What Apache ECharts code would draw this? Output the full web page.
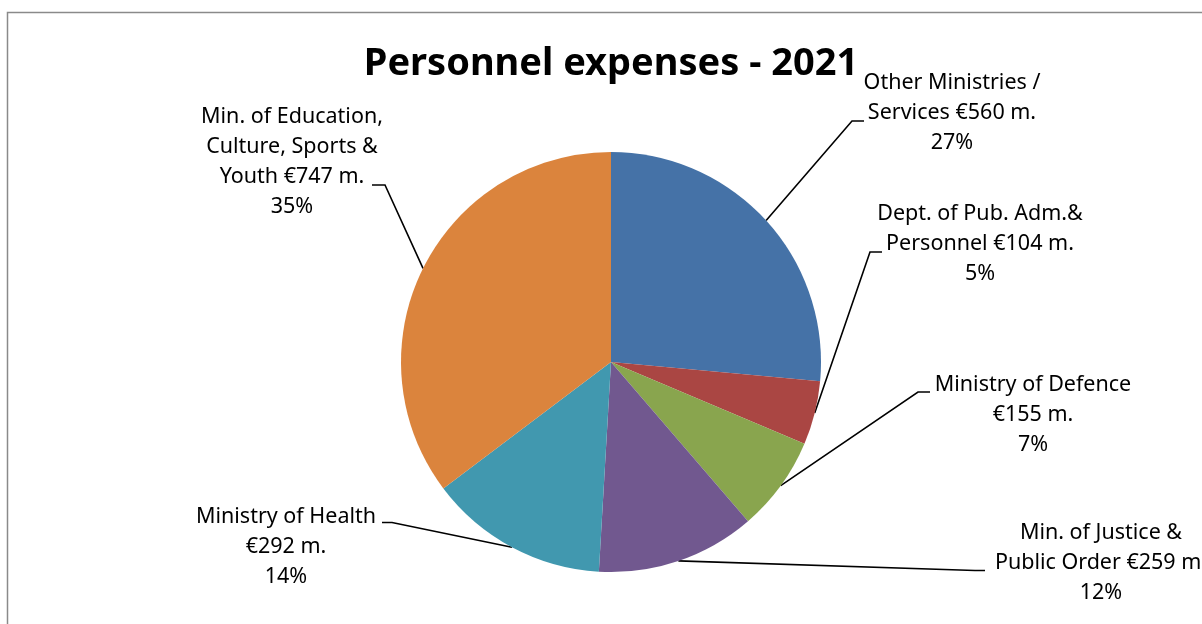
<!DOCTYPE html>
<html>
<head>
<meta charset="utf-8">
<script src="https://cdn.jsdelivr.net/npm/echarts@6/dist/echarts.min.js"></script>
<style>
html,body{margin:0;padding:0;background:#fff;}
#chart{width:1202px;height:624px;}
</style>
</head>
<body>
<div id="chart"></div>
<script>
// ---- data ----
var categories = [
  "Other Ministries /\nServices",
  "Dept. of Pub. Adm.&\nPersonnel",
  "Ministry of Defence",
  "Min. of Justice &\nPublic Order",
  "Ministry of Health",
  "Min. of Education,\nCulture, Sports &\nYouth"
];
var values = [560, 104, 155, 259, 292, 747];           // € million
var percentLabels = ["27%", "5%", "7%", "12%", "14%", "35%"];
var valueOnNewLine = [false, false, true, false, true, false];
var colors = ["#4572A7", "#AA4643", "#89A54E", "#71588F", "#4198AF", "#DB843D"];

// ---- label layout (positions of label blocks and leader elbows) ----
var labelPos = [[952,113],[980,244],[1033,415],[1101,563],[286,547],[292,162]];
var leader = [[852,121,864],[870,252,882],[918,392,930],[975,570.5,985],[392,522.5,382],[385,185,372]];

var seriesData = categories.map(function(c, i){
  return { name: c, value: values[i], itemStyle: { color: colors[i] } };
});

var chart = echarts.init(document.getElementById('chart'), null, {renderer:'canvas'});
chart.setOption({
  animation: false,
  backgroundColor: '#fff',
  title: {
    text: 'Personnel expenses - 2021',
    left: 611, top: 45, padding: 0,
    textAlign: 'center',
    textStyle: { fontFamily: 'Noto Sans', fontWeight: 'bold', fontSize: 38, color: '#000' }
  },
  graphic: [{
    type: 'rect', silent: true,
    shape: { x: 7.5, y: 12.5, width: 1400, height: 800 },
    style: { fill: 'none', stroke: '#8a8a8a', lineWidth: 1.5 }
  }],
  series: [{
    type: 'pie',
    center: [611, 362],
    radius: 210,
    startAngle: 90,
    clockwise: true,
    avoidLabelOverlap: false,
    itemStyle: { borderWidth: 0 },
    label: {
      show: true,
      position: 'outside',
      fontFamily: 'Noto Sans',
      fontSize: 21.5,
      lineHeight: 30,
      color: '#000',
      align: 'center',
      formatter: function(p){
        var i = p.dataIndex;
        return categories[i] + (valueOnNewLine[i] ? '\n' : ' ') + '€' + values[i] + ' m.\n' + percentLabels[i];
      }
    },
    labelLine: { show: true, smooth: false, length: 10, length2: 10, lineStyle: { color: '#000', width: 1.6 } },
    labelLayout: function(params){
      var i = params.dataIndex;
      var pts = params.labelLinePoints;
      var start = pts && pts[0] ? pts[0] : [611, 362];
      var l = leader[i];
      return {
        x: labelPos[i][0], y: labelPos[i][1],
        align: 'center', verticalAlign: 'middle',
        labelLinePoints: [start, [l[0], l[1]], [l[2], l[1]]]
      };
    },
    emphasis: { disabled: true },
    data: seriesData
  }]
});
</script>
</body>
</html>
